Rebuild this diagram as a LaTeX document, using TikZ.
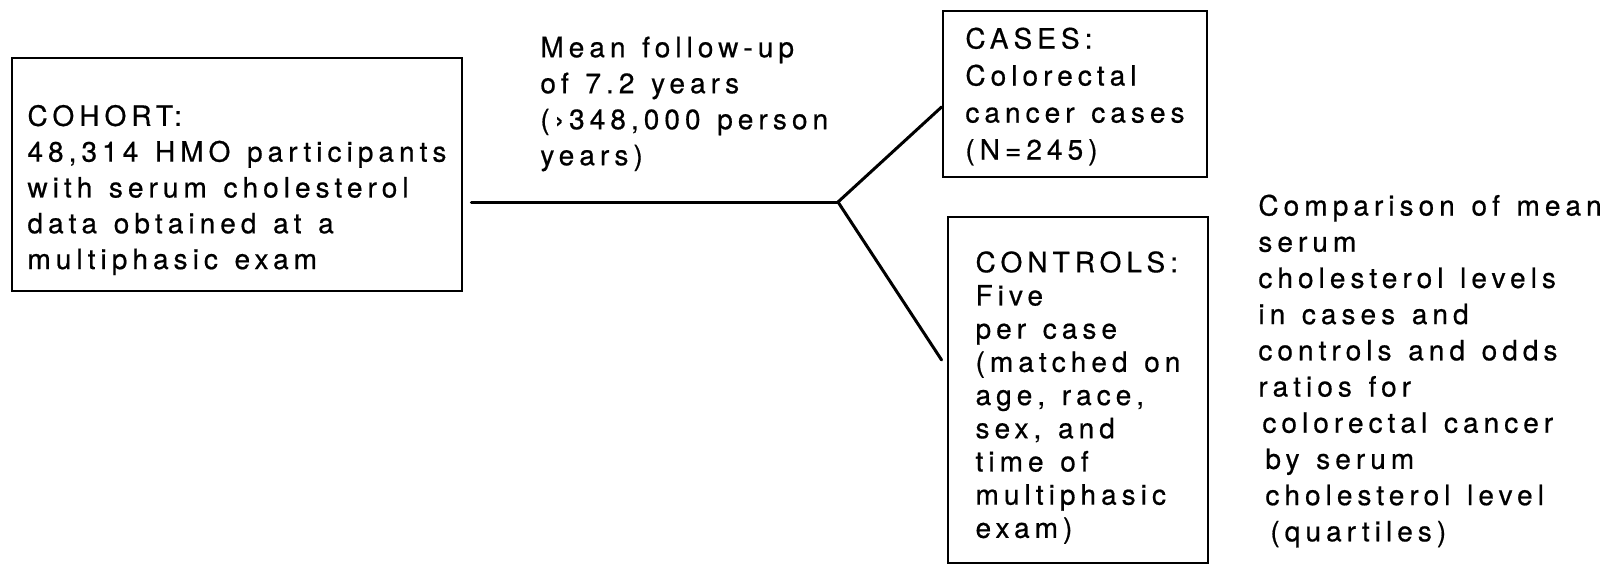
\documentclass[tikz,border=0pt]{standalone}
\usepackage{fontspec}
\setmainfont{TeX Gyre Heros}[LetterSpace=18, WordSpace=1.3, FakeBold=0.6]
\usepackage{tikz}
\usetikzlibrary{positioning}
\tikzset{
  box/.style={
    draw, line width=1.4pt, align=left, inner sep=0pt
  },
  note/.style={align=left, inner sep=0pt, anchor=west},
  link/.style={line width=1.5pt, line cap=round}
}

\begin{document}
\begin{tikzpicture}[x=0.5pt, y=-0.5pt, font=\fontsize{14pt}{18pt}\selectfont]
  \useasboundingbox (0,0) rectangle (1622,567);
  \node[box, minimum width=225pt, minimum height=116.5pt,
        font=\fontsize{14pt}{17.9pt}\selectfont] (cohort) at (237,174.5)
    {\rule{0pt}{26pt}COHORT:\\48,314 HMO participants\\with serum cholesterol\\data obtained at a\\multiphasic exam};
  \node[box, minimum width=132pt, minimum height=83pt,
        font=\fontsize{14pt}{18.5pt}\selectfont] (cases) at (1075,94)
    {\rule{0pt}{13pt}CASES:\\Colorectal\\cancer cases\\(N=245)};
  \node[box, minimum width=130pt, minimum height=173pt,
        font=\fontsize{14pt}{16.6pt}\selectfont] (controls) at (1078,390)
    {\rule{0pt}{18pt}CONTROLS:\\Five\\per case\\(matched on\\age, race,\\sex, and\\time of\\multiphasic\\exam)};
  \node[note] (followup) at (540,104)
    {Mean follow-up\\of 7.2 years\\(›348,000 person\\years)};
  \node[note, font=\fontsize{14pt}{18.1pt}\selectfont] (comparison) at (1258,371)
    {Comparison of mean\\serum\\cholesterol levels\\in cases and\\controls and odds\\ratios for\\\hspace{2pt}colorectal cancer\\\hspace{3.5pt}by serum\\\hspace{3.5pt}cholesterol level\\\hspace{6pt}(quartiles)};
  \coordinate (fork) at (838,202);
  \draw[link] ([xshift=4pt]cohort.east |- fork) -- (fork);
  \draw[link] ([yshift=-6.5pt]cases.west) -- (fork)
    -- ([xshift=-2.5pt, yshift=15pt]controls.west);
\end{tikzpicture}
\end{document}
